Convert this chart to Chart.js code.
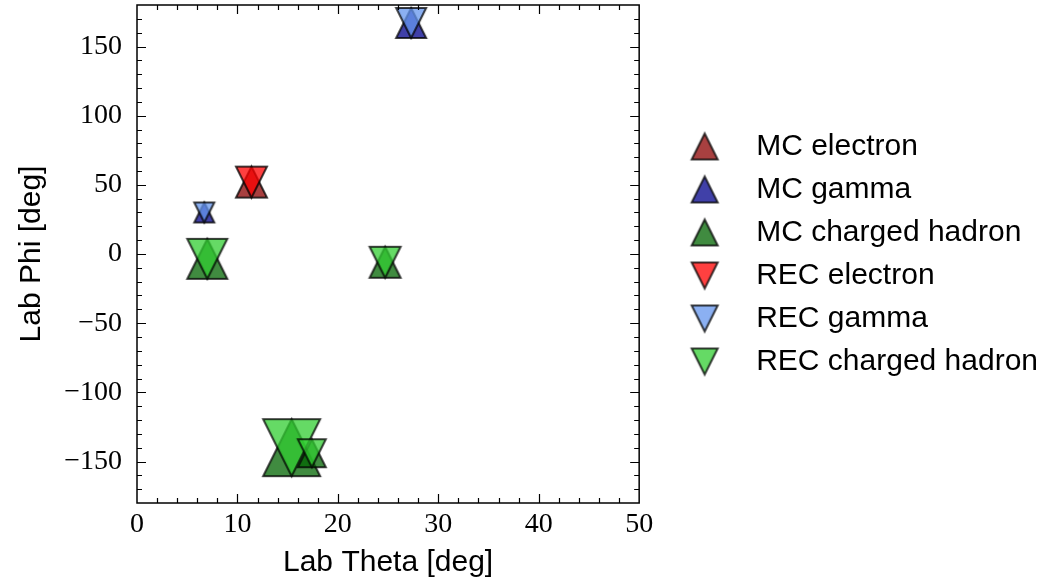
<!DOCTYPE html>
<html>
<head>
<meta charset="utf-8">
<script src="https://cdn.jsdelivr.net/npm/chart.js@4.4.1/dist/chart.umd.min.js"></script>
<style>
  html, body { margin: 0; padding: 0; background: #fff; }
</style>
</head>
<body>
<canvas id="myChart" width="1050" height="581"></canvas>
<script>
// values (theta, phi in deg)
var mcElectronTheta = [11.4];
var mcElectronPhi = [52];
var mcGammaTheta = [27.3, 6.7];
var mcGammaPhi = [167, 30];
var mcHadronTheta = [7.0, 24.7, 15.4, 17.4];
var mcHadronPhi = [-3.5, -6, -140, -144];

var recElectronTheta = [11.4];
var recElectronPhi = [52];
var recGammaTheta = [27.3, 6.7];
var recGammaPhi = [167, 30];
var recHadronTheta = [7.0, 24.7, 15.4, 17.4];
var recHadronPhi = [-3.5, -6, -140, -144];

var xTicks = [0, 10, 20, 30, 40, 50];
var yTicks = [-150, -100, -50, 0, 50, 100, 150];

// marker sizes (px), per point
var electronSize = [31];
var gammaSize = [30, 20];
var hadronSize = [40, 31, 57, 28];

var edgeColor = 'rgba(0,0,0,0.75)';
var tickFont = { family: 'Liberation Serif', size: 28 };
var labelFont = { family: 'Liberation Sans', size: 30 };

// triangle markers like matplotlib '^' / 'v'
var triCache = {};
function tri(size, fill, up) {
  var key = size + '|' + fill + '|' + up;
  if (triCache[key]) return triCache[key];
  var pad = 4;
  var c = document.createElement('canvas');
  c.width = size + pad * 2;
  c.height = size + pad * 2;
  var g = c.getContext('2d');
  g.beginPath();
  if (up) {
    g.moveTo(pad + size / 2, pad);
    g.lineTo(pad + size, pad + size);
    g.lineTo(pad, pad + size);
  } else {
    g.moveTo(pad, pad);
    g.lineTo(pad + size, pad);
    g.lineTo(pad + size / 2, pad + size);
  }
  g.closePath();
  g.fillStyle = fill;
  g.fill();
  g.lineWidth = 2;
  g.strokeStyle = edgeColor;
  g.stroke();
  triCache[key] = c;
  return c;
}

function pts(xs, ys) {
  return xs.map(function (x, i) { return { x: x, y: ys[i] }; });
}

function makeSet(label, xs, ys, sizes, fill, up) {
  return {
    label: label,
    data: pts(xs, ys),
    pointStyle: function (ctx) { return tri(sizes[ctx.dataIndex] || 30, fill, up); },
    pointRadius: 3,
    showLine: false,
    clip: false,
    order: up ? 2 : 1,
    legendStyle: tri(26, fill, up)
  };
}

var datasets = [
  makeSet('MC electron', mcElectronTheta, mcElectronPhi, electronSize, 'rgba(139,0,0,0.75)', true),
  makeSet('MC gamma', mcGammaTheta, mcGammaPhi, gammaSize, 'rgba(0,0,139,0.75)', true),
  makeSet('MC charged hadron', mcHadronTheta, mcHadronPhi, hadronSize, 'rgba(0,100,0,0.75)', true),
  makeSet('REC electron', recElectronTheta, recElectronPhi, electronSize, 'rgba(255,0,0,0.75)', false),
  makeSet('REC gamma', recGammaTheta, recGammaPhi, gammaSize, 'rgba(100,149,237,0.75)', false),
  makeSet('REC charged hadron', recHadronTheta, recHadronPhi, hadronSize, 'rgba(50,205,50,0.75)', false)
];

function fmt(v) {
  return v < 0 ? '\u2212' + Math.abs(v) : String(v);
}

// inward ticks on all four sides + frame
var innerTicks = {
  id: 'innerTicks',
  afterDatasetsDraw: function (chart) {
    var a = chart.chartArea, ctx = chart.ctx;
    var xs = chart.scales.x, ys = chart.scales.y;
    ctx.save();
    ctx.strokeStyle = '#000';
    ctx.lineWidth = 1.2;
    ctx.beginPath();
    var v, p, len;
    for (v = 2; v < 50; v += 2) {
      p = Math.round(xs.getPixelForValue(v)) + 0.5;
      len = (v % 10 === 0) ? 9 : 5;
      ctx.moveTo(p, a.bottom); ctx.lineTo(p, a.bottom - len);
      ctx.moveTo(p, a.top); ctx.lineTo(p, a.top + len);
    }
    for (v = -170; v <= 170; v += 10) {
      p = Math.round(ys.getPixelForValue(v)) + 0.5;
      len = (v % 50 === 0) ? 9 : 5;
      ctx.moveTo(a.left, p); ctx.lineTo(a.left + len, p);
      ctx.moveTo(a.right, p); ctx.lineTo(a.right - len, p);
    }
    ctx.stroke();
    ctx.lineWidth = 1.5;
    ctx.strokeRect(a.left, a.top, a.right - a.left, a.bottom - a.top);
    ctx.restore();
  }
};

var ctx = document.getElementById('myChart');
var myChart = new Chart(ctx, {
  type: 'scatter',
  data: { datasets: datasets },
  plugins: [innerTicks],
  options: {
    responsive: false,
    animation: false,
    events: [],
    layout: { padding: { top: 5, right: 2, bottom: 0, left: 0 } },
    scales: {
      x: {
        type: 'linear',
        position: 'bottom',
        min: 0,
        max: 50,
        afterBuildTicks: function (s) { s.ticks = xTicks.map(function (v) { return { value: v }; }); },
        afterFit: function (s) { s.height = 78; s.paddingLeft = 0; s.paddingRight = 0; },
        grid: { display: false, drawTicks: false, tickLength: 0 },
        border: { display: false },
        ticks: { padding: 5, font: tickFont, color: '#000', maxRotation: 0, callback: function (v) { return fmt(v); } },
        title: { display: true, text: 'Lab Theta [deg]', font: labelFont, color: '#000', padding: { top: 0, bottom: 0 } }
      },
      y: {
        type: 'linear',
        position: 'left',
        min: -180,
        max: 180,
        afterBuildTicks: function (s) { s.ticks = yTicks.map(function (v) { return { value: v }; }); },
        afterFit: function (s) { s.width = 137; s.paddingTop = 0; s.paddingBottom = 0; },
        grid: { display: false, drawTicks: false, tickLength: 0 },
        border: { display: false },
        ticks: { padding: 15, font: tickFont, color: '#000', callback: function (v) { return fmt(v); } },
        title: { display: true, text: 'Lab Phi [deg]', font: labelFont, color: '#000', padding: { top: 14, bottom: 0 } }
      },
      y2: {
        type: 'linear',
        position: 'right',
        display: true,
        afterFit: function (s) { s.width = 16; s.paddingTop = 0; s.paddingBottom = 0; },
        grid: { display: false, drawTicks: false, tickLength: 0 },
        border: { display: false },
        ticks: { display: false }
      }
    },
    plugins: {
      tooltip: { enabled: false },
      legend: {
        position: 'right',
        fullSize: false,
        maxWidth: 500,
        labels: {
          usePointStyle: true,
          pointStyleWidth: 73,
          padding: 13,
          color: '#000',
          font: labelFont,
          generateLabels: function (chart) {
            return chart.data.datasets.map(function (ds, i) {
              return {
                text: ds.label,
                pointStyle: ds.legendStyle,
                datasetIndex: i,
                fillStyle: 'rgba(0,0,0,0)',
                strokeStyle: 'rgba(0,0,0,0)',
                lineWidth: 0,
                hidden: false,
                fontColor: '#000'
              };
            });
          }
        }
      }
    }
  }
});
</script>
</body>
</html>
